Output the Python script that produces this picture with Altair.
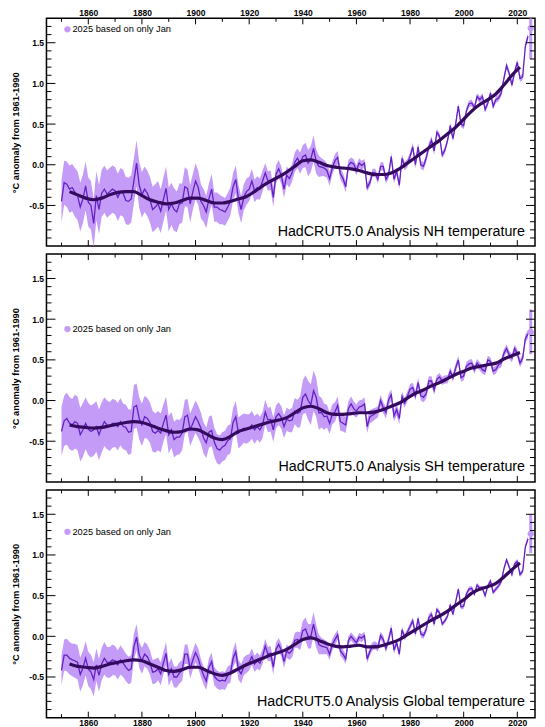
import altair as alt
import pandas as pd

FIRST_YEAR = 1850

NH_ANNUAL = """
-0.45 -0.22 -0.24 -0.30 -0.28 -0.34 -0.38 -0.52 -0.42 -0.26
-0.46 -0.50 -0.72 -0.38 -0.55 -0.35 -0.30 -0.36 -0.33 -0.30
-0.32 -0.40 -0.33 -0.35 -0.44 -0.45 -0.42 -0.20 0.02 -0.25
-0.37 -0.30 -0.35 -0.43 -0.55 -0.52 -0.48 -0.57 -0.43 -0.29
-0.55 -0.48 -0.55 -0.58 -0.48 -0.47 -0.27 -0.29 -0.48 -0.33
-0.20 -0.28 -0.45 -0.50 -0.58 -0.42 -0.30 -0.52 -0.52 -0.55
-0.56 -0.58 -0.52 -0.45 -0.27 -0.18 -0.42 -0.55 -0.40 -0.33
-0.30 -0.20 -0.32 -0.28 -0.30 -0.20 -0.10 -0.20 -0.19 -0.40
-0.12 -0.05 -0.13 -0.30 -0.13 -0.17 -0.10 0.03 0.08 0.02
0.10 0.12 0.02 0.07 0.20 0.04 -0.02 -0.03 -0.04 -0.07
-0.17 -0.04 0.05 0.09 -0.11 -0.17 -0.27 -0.01 0.03 0.01
-0.07 0.02 -0.01 0.02 -0.28 -0.22 -0.10 -0.10 -0.18 -0.02
-0.02 -0.18 -0.12 0.10 -0.18 -0.08 -0.25 0.08 -0.02 0.02
0.10 0.22 0.00 0.22 0.00 -0.02 0.08 0.22 0.30 0.17
0.40 0.35 0.12 0.18 0.30 0.48 0.32 0.50 0.72 0.50
0.48 0.66 0.75 0.76 0.70 0.84 0.80 0.84 0.68 0.76
0.88 0.72 0.80 0.82 0.88 1.06 1.22 1.12 0.98 1.14
1.26 1.06 1.08 1.46 1.58
""".split()

NH_UNC = """
0.26 0.27 0.28 0.29 0.29 0.30 0.30 0.30 0.30 0.30
0.30 0.30 0.30 0.30 0.30 0.29 0.29 0.29 0.29 0.29
0.29 0.29 0.29 0.29 0.29 0.29 0.29 0.28 0.28 0.28
0.28 0.28 0.28 0.28 0.28 0.28 0.28 0.27 0.27 0.27
0.27 0.26 0.26 0.25 0.25 0.24 0.24 0.23 0.23 0.22
0.22 0.21 0.21 0.20 0.20 0.19 0.19 0.18 0.18 0.18
0.17 0.17 0.17 0.17 0.17 0.17 0.17 0.17 0.16 0.16
0.15 0.15 0.14 0.14 0.13 0.13 0.12 0.12 0.12 0.12
0.11 0.11 0.11 0.11 0.11 0.11 0.11 0.12 0.12 0.13
0.14 0.15 0.16 0.16 0.16 0.15 0.13 0.11 0.10 0.09
0.09 0.08 0.08 0.08 0.07 0.07 0.07 0.07 0.06 0.06
0.06 0.06 0.06 0.05 0.05 0.05 0.05 0.05 0.05 0.05
0.05 0.05 0.05 0.05 0.05 0.05 0.05 0.05 0.05 0.05
0.05 0.05 0.05 0.05 0.05 0.05 0.05 0.05 0.05 0.05
0.04 0.04 0.04 0.04 0.04 0.04 0.04 0.04 0.04 0.04
0.04 0.04 0.04 0.04 0.04 0.04 0.04 0.04 0.04 0.04
0.04 0.04 0.04 0.04 0.04 0.04 0.04 0.04 0.04 0.04
0.04 0.04 0.04 0.04 0.04
""".split()

NH_SMOOTH = """
-0.33 -0.37 -0.41 -0.43 -0.41 -0.37 -0.34 -0.33 -0.33 -0.38
-0.43 -0.46 -0.48 -0.47 -0.44 -0.41 -0.41 -0.44 -0.47 -0.47
-0.45 -0.42 -0.39 -0.33 -0.26 -0.20 -0.15 -0.09 -0.02 0.05
0.06 0.03 -0.01 -0.03 -0.04 -0.05 -0.07 -0.10 -0.12 -0.12
-0.10 -0.05 0.02 0.09 0.16 0.23 0.30 0.38 0.46 0.56
0.66 0.74 0.80 0.87 0.98 1.10 1.20
""".split()

SH_ANNUAL = """
-0.38 -0.25 -0.22 -0.28 -0.30 -0.26 -0.28 -0.42 -0.36 -0.28
-0.35 -0.38 -0.36 -0.32 -0.42 -0.33 -0.26 -0.30 -0.32 -0.28
-0.28 -0.32 -0.26 -0.32 -0.33 -0.39 -0.38 -0.08 -0.06 -0.22
-0.30 -0.20 -0.22 -0.27 -0.38 -0.40 -0.37 -0.40 -0.28 -0.18
-0.42 -0.36 -0.48 -0.45 -0.45 -0.40 -0.20 -0.18 -0.36 -0.28
-0.20 -0.26 -0.34 -0.46 -0.52 -0.39 -0.37 -0.51 -0.59 -0.61
-0.57 -0.55 -0.49 -0.47 -0.27 -0.20 -0.40 -0.37 -0.34 -0.35
-0.34 -0.30 -0.36 -0.32 -0.36 -0.30 -0.14 -0.24 -0.23 -0.36
-0.20 -0.16 -0.21 -0.32 -0.23 -0.25 -0.24 -0.13 -0.16 -0.14
0.04 0.08 0.00 -0.05 0.12 0.04 -0.15 -0.15 -0.20 -0.19
-0.28 -0.17 -0.14 -0.06 -0.26 -0.28 -0.30 -0.10 -0.04 -0.10
-0.13 -0.08 -0.07 -0.04 -0.32 -0.20 -0.18 -0.16 -0.14 0.00
-0.09 -0.15 0.01 0.07 -0.19 -0.11 -0.22 0.05 -0.03 0.05
0.14 0.16 0.06 0.22 0.06 0.04 0.08 0.24 0.24 0.13
0.26 0.29 0.24 0.26 0.26 0.36 0.28 0.40 0.50 0.28
0.30 0.42 0.45 0.46 0.38 0.46 0.42 0.38 0.36 0.50
0.48 0.36 0.38 0.44 0.46 0.58 0.64 0.56 0.52 0.64
0.58 0.46 0.52 0.76 0.82
""".split()

SH_UNC = """
0.30 0.31 0.32 0.32 0.32 0.33 0.33 0.33 0.33 0.32
0.32 0.32 0.32 0.31 0.31 0.31 0.30 0.30 0.30 0.30
0.29 0.29 0.29 0.28 0.28 0.28 0.27 0.27 0.27 0.26
0.26 0.26 0.25 0.25 0.25 0.24 0.24 0.24 0.23 0.23
0.23 0.22 0.22 0.22 0.21 0.21 0.21 0.20 0.20 0.20
0.20 0.20 0.19 0.19 0.19 0.19 0.19 0.18 0.18 0.18
0.18 0.18 0.18 0.18 0.18 0.19 0.19 0.19 0.18 0.18
0.17 0.17 0.17 0.16 0.16 0.16 0.15 0.15 0.15 0.15
0.14 0.14 0.14 0.14 0.14 0.14 0.15 0.16 0.17 0.19
0.21 0.23 0.24 0.25 0.25 0.24 0.21 0.18 0.16 0.14
0.13 0.12 0.12 0.11 0.11 0.10 0.10 0.09 0.09 0.09
0.08 0.08 0.08 0.08 0.08 0.08 0.08 0.07 0.07 0.07
0.07 0.07 0.07 0.07 0.07 0.07 0.07 0.06 0.06 0.06
0.06 0.06 0.06 0.06 0.06 0.06 0.06 0.06 0.06 0.06
0.05 0.05 0.05 0.05 0.05 0.05 0.05 0.05 0.05 0.05
0.05 0.05 0.05 0.05 0.05 0.05 0.05 0.05 0.05 0.05
0.05 0.05 0.05 0.05 0.05 0.05 0.05 0.05 0.05 0.05
0.05 0.05 0.05 0.05 0.05
""".split()

SH_SMOOTH = """
-0.30 -0.32 -0.33 -0.34 -0.33 -0.31 -0.29 -0.27 -0.26 -0.27
-0.30 -0.34 -0.37 -0.39 -0.38 -0.35 -0.36 -0.41 -0.46 -0.48
-0.44 -0.38 -0.35 -0.32 -0.29 -0.26 -0.24 -0.21 -0.15 -0.09
-0.07 -0.10 -0.15 -0.17 -0.17 -0.16 -0.15 -0.15 -0.14 -0.11
-0.07 -0.03 0.03 0.09 0.13 0.18 0.22 0.27 0.32 0.36
0.40 0.42 0.44 0.46 0.51 0.55 0.59
""".split()

GL_ANNUAL = """
-0.42 -0.23 -0.23 -0.27 -0.29 -0.30 -0.32 -0.47 -0.39 -0.27
-0.40 -0.44 -0.53 -0.35 -0.48 -0.34 -0.27 -0.32 -0.32 -0.29
-0.30 -0.35 -0.29 -0.33 -0.38 -0.42 -0.40 -0.13 -0.01 -0.23
-0.30 -0.22 -0.25 -0.32 -0.44 -0.43 -0.40 -0.46 -0.33 -0.21
-0.47 -0.40 -0.50 -0.50 -0.45 -0.42 -0.22 -0.22 -0.40 -0.29
-0.20 -0.27 -0.39 -0.48 -0.55 -0.38 -0.31 -0.49 -0.53 -0.55
-0.54 -0.55 -0.48 -0.46 -0.27 -0.19 -0.41 -0.46 -0.37 -0.34
-0.32 -0.25 -0.34 -0.30 -0.33 -0.25 -0.12 -0.22 -0.21 -0.38
-0.16 -0.10 -0.17 -0.31 -0.18 -0.21 -0.17 -0.05 -0.04 -0.06
0.07 0.09 0.00 0.00 0.15 0.00 -0.10 -0.12 -0.13 -0.14
-0.22 -0.10 -0.04 0.02 -0.18 -0.22 -0.28 -0.05 0.00 -0.04
-0.08 -0.01 -0.02 0.01 -0.28 -0.19 -0.12 -0.11 -0.14 0.01
-0.04 -0.15 -0.04 0.10 -0.17 -0.08 -0.22 0.08 -0.01 0.05
0.12 0.19 0.03 0.22 0.03 0.01 0.08 0.23 0.27 0.15
0.33 0.29 0.15 0.19 0.25 0.39 0.27 0.42 0.58 0.36
0.37 0.52 0.58 0.59 0.52 0.63 0.59 0.59 0.50 0.62
0.68 0.54 0.58 0.62 0.67 0.83 0.94 0.85 0.76 0.89
0.92 0.76 0.80 1.10 1.20
""".split()

GL_UNC = """
0.18 0.19 0.20 0.20 0.20 0.21 0.21 0.21 0.21 0.21
0.21 0.21 0.21 0.20 0.20 0.20 0.20 0.19 0.19 0.19
0.18 0.18 0.18 0.17 0.17 0.17 0.17 0.16 0.16 0.16
0.16 0.15 0.15 0.15 0.15 0.15 0.14 0.14 0.14 0.14
0.14 0.13 0.13 0.13 0.13 0.13 0.12 0.12 0.12 0.12
0.12 0.12 0.11 0.11 0.11 0.11 0.11 0.11 0.11 0.11
0.11 0.11 0.11 0.11 0.11 0.12 0.12 0.12 0.11 0.11
0.10 0.10 0.10 0.10 0.09 0.09 0.09 0.09 0.09 0.09
0.08 0.08 0.08 0.08 0.08 0.08 0.09 0.09 0.10 0.11
0.12 0.14 0.15 0.15 0.15 0.14 0.12 0.10 0.09 0.08
0.07 0.07 0.07 0.06 0.06 0.06 0.06 0.05 0.05 0.05
0.05 0.05 0.05 0.05 0.05 0.05 0.05 0.05 0.05 0.05
0.05 0.05 0.05 0.05 0.05 0.04 0.04 0.04 0.04 0.04
0.04 0.04 0.04 0.04 0.04 0.04 0.04 0.04 0.04 0.04
0.03 0.03 0.03 0.03 0.03 0.03 0.03 0.03 0.03 0.03
0.03 0.03 0.03 0.03 0.03 0.03 0.03 0.03 0.03 0.03
0.03 0.03 0.03 0.03 0.03 0.03 0.03 0.03 0.03 0.03
0.03 0.03 0.03 0.03 0.03
""".split()

GL_SMOOTH = """
-0.34 -0.37 -0.38 -0.39 -0.37 -0.34 -0.32 -0.30 -0.29 -0.30
-0.34 -0.38 -0.42 -0.43 -0.41 -0.38 -0.38 -0.42 -0.46 -0.48
-0.45 -0.40 -0.35 -0.31 -0.27 -0.23 -0.20 -0.16 -0.10 -0.04
-0.02 -0.05 -0.09 -0.12 -0.13 -0.12 -0.11 -0.13 -0.13 -0.11
-0.08 -0.04 0.02 0.08 0.14 0.20 0.25 0.31 0.38 0.45
0.53 0.58 0.61 0.65 0.73 0.82 0.90
""".split()

SMOOTH_FIRST_YEAR = 1853
SMOOTH_STEP = 3

# 2025 (January only): year, value, lower, upper
NH_2025 = [2025, 1.68, 1.30, 1.80]
SH_2025 = [2025, 0.84, 0.57, 1.12]
GL_2025 = [2025, 1.26, 1.02, 1.50]

TITLES = ["HadCRUT5.0 Analysis NH temperature",
          "HadCRUT5.0 Analysis SH temperature",
          "HadCRUT5.0 Analysis Global temperature"]
LEGEND_TEXT = "2025 based on only Jan"
Y_TITLE = "\u00b0C anomaly from 1961-1990"

X_MAJOR = [1860, 1880, 1900, 1920, 1940, 1960, 1980, 2000, 2020]
X_MINOR = [1850, 1870, 1890, 1910, 1930, 1950, 1970, 1990, 2010]
Y_MAJOR = [-0.5, 0.0, 0.5, 1.0, 1.5]
Y_MINOR = [-0.9, -0.8, -0.7, -0.6, -0.4, -0.3, -0.2, -0.1, 0.1, 0.2, 0.3, 0.4,
           0.6, 0.7, 0.8, 0.9, 1.1, 1.2, 1.3, 1.4, 1.6, 1.7]

# ---- styling ----
W, H = 489, 228
X_DOMAIN = [1844.4, 2026.6]
Y_DOMAIN = [-1.0, 1.8]
BAND = "#c49cf7"
ANNUAL = "#6420c4"
SMOOTH = "#340a5e"
FONT = "Liberation Sans"

xs = alt.Scale(domain=X_DOMAIN, nice=False, zero=False)
ys = alt.Scale(domain=Y_DOMAIN, nice=False, zero=False)

yaxis = alt.Axis(values=Y_MAJOR,
                 labelExpr="replace(format(datum.value, '.1f'), '\u2212', '-')",
                 ticks=False, domain=False, grid=False, labelPadding=3,
                 minExtent=20, maxExtent=20,
                 labelFontSize=8.5, labelFont=FONT, labelColor="black",
                 labelFontWeight="bold",
                 title=Y_TITLE, titleFontSize=9.3, titleFont=FONT,
                 titleFontWeight="bold", titleColor="black", titlePadding=6)


def xaxis_for(orient):
    if orient is None:
        return None
    return alt.Axis(orient=orient, values=X_MAJOR, format="d", ticks=False,
                    domain=False, grid=False, labelPadding=1,
                    labelFontSize=8.5, labelFont=FONT, labelColor="black",
                    labelFontWeight="bold", title=None)


def panel(annual, unc, smooth, p25, title, legend_y, title_dy, orient):
    a = [float(v) for v in annual]
    u = [float(v) for v in unc]
    years = list(range(FIRST_YEAR, FIRST_YEAR + len(a)))
    df = pd.DataFrame({"year": years, "v": a,
                       "lo": [x - e for x, e in zip(a, u)],
                       "hi": [x + e for x, e in zip(a, u)]})
    s = [float(v) for v in smooth]
    sdf = pd.DataFrame({"year": list(range(SMOOTH_FIRST_YEAR,
                                           SMOOTH_FIRST_YEAR + SMOOTH_STEP * len(s),
                                           SMOOTH_STEP)), "v": s})
    pdf = pd.DataFrame({"year": [p25[0]], "v": [p25[1]], "lo": [p25[2]], "hi": [p25[3]]})

    xa = xaxis_for(orient)
    X = lambda f: alt.X(f, scale=xs, axis=xa)
    Y = lambda f: alt.Y(f, scale=ys, axis=yaxis)

    band = alt.Chart(df).mark_area(color=BAND, clip=True).encode(
        x=X("year:Q"), y=Y("lo:Q"), y2="hi:Q")
    line = alt.Chart(df).mark_line(color=ANNUAL, strokeWidth=1.3, clip=True).encode(
        x=X("year:Q"), y=Y("v:Q"))
    sm = alt.Chart(sdf).mark_line(color=SMOOTH, strokeWidth=3.2, interpolate="monotone",
                                  clip=True).encode(x=X("year:Q"), y=Y("v:Q"))
    err = alt.Chart(pdf).mark_rule(color=BAND, strokeWidth=3, clip=True).encode(
        x=X("year:Q"), y=Y("lo:Q"), y2="hi:Q")
    pt = alt.Chart(pdf).mark_circle(color=BAND, size=40, opacity=1, clip=True).encode(
        x=X("year:Q"), y=Y("v:Q"))

    xmaj = pd.DataFrame({"t": X_MAJOR})
    xmin = pd.DataFrame({"t": X_MINOR})
    ymaj = pd.DataFrame({"t": Y_MAJOR})
    ymin = pd.DataFrame({"t": Y_MINOR})
    tick = dict(color="black", strokeWidth=1)
    ticks = [
        alt.Chart(xmaj).mark_rule(**tick).encode(x=X("t:Q"), y=alt.value(0), y2=alt.value(6)),
        alt.Chart(xmin).mark_rule(**tick).encode(x=X("t:Q"), y=alt.value(0), y2=alt.value(3.5)),
        alt.Chart(xmaj).mark_rule(**tick).encode(x=X("t:Q"), y=alt.value(H), y2=alt.value(H - 6)),
        alt.Chart(xmin).mark_rule(**tick).encode(x=X("t:Q"), y=alt.value(H), y2=alt.value(H - 3.5)),
        alt.Chart(ymaj).mark_rule(**tick).encode(y=Y("t:Q"), x=alt.value(0), x2=alt.value(9)),
        alt.Chart(ymin).mark_rule(**tick).encode(y=Y("t:Q"), x=alt.value(0), x2=alt.value(5)),
        alt.Chart(ymaj).mark_rule(**tick).encode(y=Y("t:Q"), x=alt.value(W), x2=alt.value(W - 9)),
        alt.Chart(ymin).mark_rule(**tick).encode(y=Y("t:Q"), x=alt.value(W), x2=alt.value(W - 5)),
    ]

    lab = pd.DataFrame({"label": [LEGEND_TEXT]})
    leg_dot = alt.Chart(lab).mark_circle(color=BAND, size=40, opacity=1).encode(
        x=alt.value(21), y=alt.value(legend_y))
    leg_txt = alt.Chart(lab).mark_text(align="left", baseline="middle", font=FONT,
                                       fontSize=9.3, color="black").encode(
        x=alt.value(26), y=alt.value(legend_y), text="label:N")
    tdf = pd.DataFrame({"label": [title]})
    ttl = alt.Chart(tdf).mark_text(align="right", baseline="alphabetic", font=FONT,
                                   fontSize=14.3, color="black").encode(
        x=alt.value(479), y=alt.value(H - title_dy), text="label:N")

    return alt.layer(band, line, sm, err, pt, *ticks, leg_dot, leg_txt, ttl).properties(
        width=W, height=H)


top = panel(NH_ANNUAL, NH_UNC, NH_SMOOTH, NH_2025, TITLES[0], 11, 10, "top")
mid = panel(SH_ANNUAL, SH_UNC, SH_SMOOTH, SH_2025, TITLES[1], 75, 11, None)
bot = panel(GL_ANNUAL, GL_UNC, GL_SMOOTH, GL_2025, TITLES[2], 42, 12, "bottom")

chart = alt.vconcat(top, mid, bot, spacing=4).properties(
    padding={"left": 2.5, "top": -1, "right": 0, "bottom": 0}
).configure(font=FONT, background="white").configure_view(
    stroke="black", strokeWidth=1.5)

chart.save("out.html", embed_options={"renderer": "svg", "actions": False})
